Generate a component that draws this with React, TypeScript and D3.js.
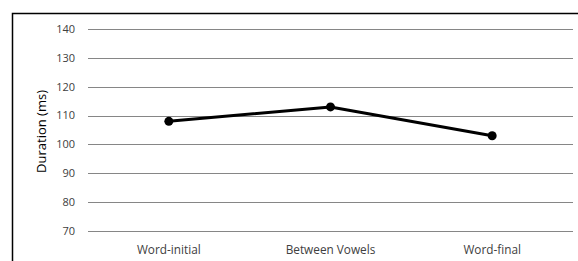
import React, { useEffect, useRef } from 'react';
import * as d3 from 'd3';

const categories = ['Word-initial', 'Between Vowels', 'Word-final'];
const durations = [108, 113, 103];
const yTicks = [70, 80, 90, 100, 110, 120, 130, 140];

const W = 578;
const H = 261;

const App: React.FC = () => {
  const svgRef = useRef<SVGSVGElement>(null);

  useEffect(() => {
    if (!svgRef.current) return;
    const svg = d3.select(svgRef.current);
    svg.selectAll('*').remove();

    const font = "'Open Sans', 'Noto Sans', sans-serif";

    // outer chart border (cropped on right/bottom)
    svg.append('rect')
      .attr('x', 12.5).attr('y', 13.5)
      .attr('width', 700).attr('height', 400)
      .attr('fill', 'white')
      .attr('stroke', '#000').attr('stroke-width', 1.5);

    const x = d3.scaleBand().domain(categories).range([88, 573]);
    const y = d3.scaleLinear().domain([70, 140]).range([231, 29]);

    // gridlines
    svg.append('g')
      .selectAll('line')
      .data(yTicks)
      .enter()
      .append('line')
      .attr('x1', 88).attr('x2', 573)
      .attr('y1', d => Math.round(y(d)) + 0.5)
      .attr('y2', d => Math.round(y(d)) + 0.5)
      .attr('stroke', '#868686').attr('stroke-width', 1);

    // y tick labels
    svg.append('g')
      .selectAll('text')
      .data(yTicks)
      .enter()
      .append('text')
      .attr('x', 75)
      .attr('y', d => y(d))
      .attr('dy', '0.35em')
      .attr('text-anchor', 'end')
      .style('font-family', font)
      .style('font-size', '11px')
      .style('fill', '#404040')
      .text(d => d);

    // category labels
    svg.append('g')
      .selectAll('text')
      .data(categories)
      .enter()
      .append('text')
      .attr('x', d => (x(d) as number) + x.bandwidth() / 2)
      .attr('y', 250)
      .attr('dy', '0.35em')
      .attr('text-anchor', 'middle')
      .style('font-family', font)
      .style('font-size', '11.8px')
      .style('fill', '#404040')
      .text(d => d);

    // y axis title
    svg.append('text')
      .attr('transform', `translate(41,${y(104.5)}) rotate(-90)`)
      .attr('text-anchor', 'middle')
      .attr('dy', '0.35em')
      .style('font-family', font)
      .style('font-size', '13px')
      .style('fill', '#000')
      .text('Duration (ms)');

    const pts = categories.map((c, i) => ({
      x: (x(c) as number) + x.bandwidth() / 2,
      y: y(durations[i])
    }));

    const line = d3.line<{ x: number; y: number }>().x(d => d.x).y(d => d.y);

    svg.append('path')
      .attr('d', line(pts) || '')
      .attr('fill', 'none')
      .attr('stroke', '#000')
      .attr('stroke-width', 3)
      .attr('stroke-linejoin', 'round');

    svg.append('g')
      .selectAll('circle')
      .data(pts)
      .enter()
      .append('circle')
      .attr('cx', d => d.x)
      .attr('cy', d => d.y)
      .attr('r', 4.5)
      .attr('fill', '#000');
  }, []);

  return (
    <div style={{ position: 'absolute', left: 0, top: 0 }}>
      <svg ref={svgRef} width={W} height={H} style={{ display: 'block', background: '#fff' }} />
    </div>
  );
};

export default App;
